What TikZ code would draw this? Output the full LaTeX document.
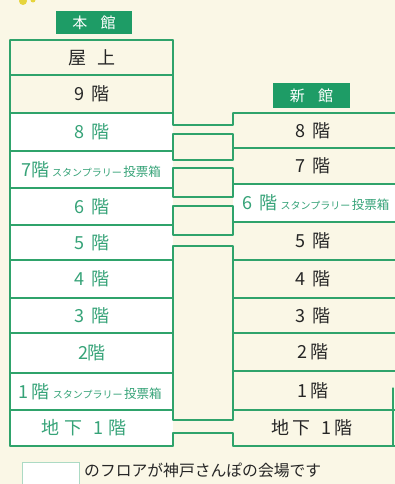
\documentclass[tikz,border=0pt]{standalone}
\usepackage{fontspec}
\newfontfamily\jp{Noto Sans CJK JP}
\definecolor{cream}{HTML}{FAF7E6}
\definecolor{lg}{HTML}{2FA36B}
\definecolor{tg}{HTML}{36A378}
\definecolor{tb}{HTML}{1E9C66}
\definecolor{yel}{HTML}{E6D43C}
\tikzset{
  wall/.style={draw=lg, line width=1.2pt, line join=round, line cap=round},
  lbl/.style={font=\jp\fontsize{18}{18}\selectfont, inner sep=0pt},
  lblk/.style={lbl, text=black!85},
  lblg/.style={lbl, text=tg},
  ttl/.style={fill=tb, text=white, font=\jp\fontsize{15}{15}\selectfont, inner sep=0pt},
}
\newcommand{\stamp}{{\fontsize{10}{10}\selectfont スタンプラリー}\hspace{1.5pt}{\fontsize{12.5}{12.5}\selectfont 投票箱}}
\begin{document}
\begin{tikzpicture}[x=1pt,y=-1pt]
\fill[cream] (0,0) rectangle (395,484);
\useasboundingbox (0,0) rectangle (395,484);
% decorative yellow dots
\fill[yel] (23,1) circle (4);
\fill[yel] (33,0) circle (2.5);
% titles
\node[ttl, minimum width=76pt, minimum height=23pt] (honkan) at (94,22.5) {本\hspace{0.9em}館};
\node[ttl, minimum width=77pt, minimum height=25pt] (shinkan) at (311.5,95.5) {新\hspace{0.9em}館};
% fills
\fill[white] (10,113) rectangle (173,446);
\fill[white] (233,184) rectangle (395,222);
\fill[white] (22,462) rectangle (79,484);
\draw[draw=lg!40, line width=0.6pt] (22,484) -- (22,462) -- (79,462) -- (79,484);
% main building
\draw[wall] (10,40) -- (10,446);
\foreach \y in {40,75,113,151,188,225,260,298,333,373,410,446}
  \draw[wall] (10,\y) -- (173,\y);
% connectors
\draw[wall] (173,40) -- (173,125) -- (233,125) -- (233,113);
\draw[wall] (173,134) rectangle (233,160);
\draw[wall] (173,168) rectangle (233,197);
\draw[wall] (173,206) rectangle (233,235);
\draw[wall] (173,246) rectangle (233,420);
\draw[wall] (173,446) -- (173,433) -- (233,433) -- (233,446);
% new building
\foreach \y in {113,148,184,222,260,298,333,371,410,446}
  \draw[wall] (233,\y) -- (396,\y);
\draw[wall] (393,388) -- (393,446);
% main labels
\node[lblk] (m10) at (92,57.5) {屋\hspace{0.6em}上};
\node[lblk] (m9) at (92,94) {9\hspace{0.4em}階};
\node[lblg] (m8) at (92,132) {8\hspace{0.4em}階};
\node[lblg] (m7) at (91,169.5) {7階\hspace{3pt}\stamp};
\node[lblg] (m6) at (92,206.5) {6\hspace{0.4em}階};
\node[lblg] (m5) at (92,242.5) {5\hspace{0.4em}階};
\node[lblg] (m4) at (92,279) {4\hspace{0.4em}階};
\node[lblg] (m3) at (92,315.5) {3\hspace{0.4em}階};
\node[lblg] (m2) at (92,353) {2階};
\node[lblg] (m1) at (90,391.5) {1\hspace{0.2em}階\hspace{3pt}\stamp};
\node[lblg] (mb1) at (84,428) {地\hspace{0.3em}下\hspace{0.6em}1\hspace{0.3em}階};
% new labels
\node[lblk] (n8) at (313,130.5) {8\hspace{0.4em}階};
\node[lblk] (n7) at (313,166) {7\hspace{0.4em}階};
\node[lblg] (n6) at (316,203) {6\hspace{0.4em}階\hspace{3pt}\stamp};
\node[lblk] (n5) at (313,241) {5\hspace{0.4em}階};
\node[lblk] (n4) at (313,279) {4\hspace{0.4em}階};
\node[lblk] (n3) at (313,315.5) {3\hspace{0.4em}階};
\node[lblk] (n2) at (313,352) {2\hspace{0.2em}階};
\node[lblk] (n1) at (313,390.5) {1\hspace{0.2em}階};
\node[lblk] (nb1) at (312,428) {地\hspace{0.2em}下\hspace{0.6em}1\hspace{0.2em}階};
% legend
\node[font=\jp\fontsize{15.8}{15.8}\selectfont, text=black!85, inner sep=0pt, anchor=west] (legend) at (84,470.5) {のフロアが神戸さんぽの会場です};
\end{tikzpicture}
\end{document}
